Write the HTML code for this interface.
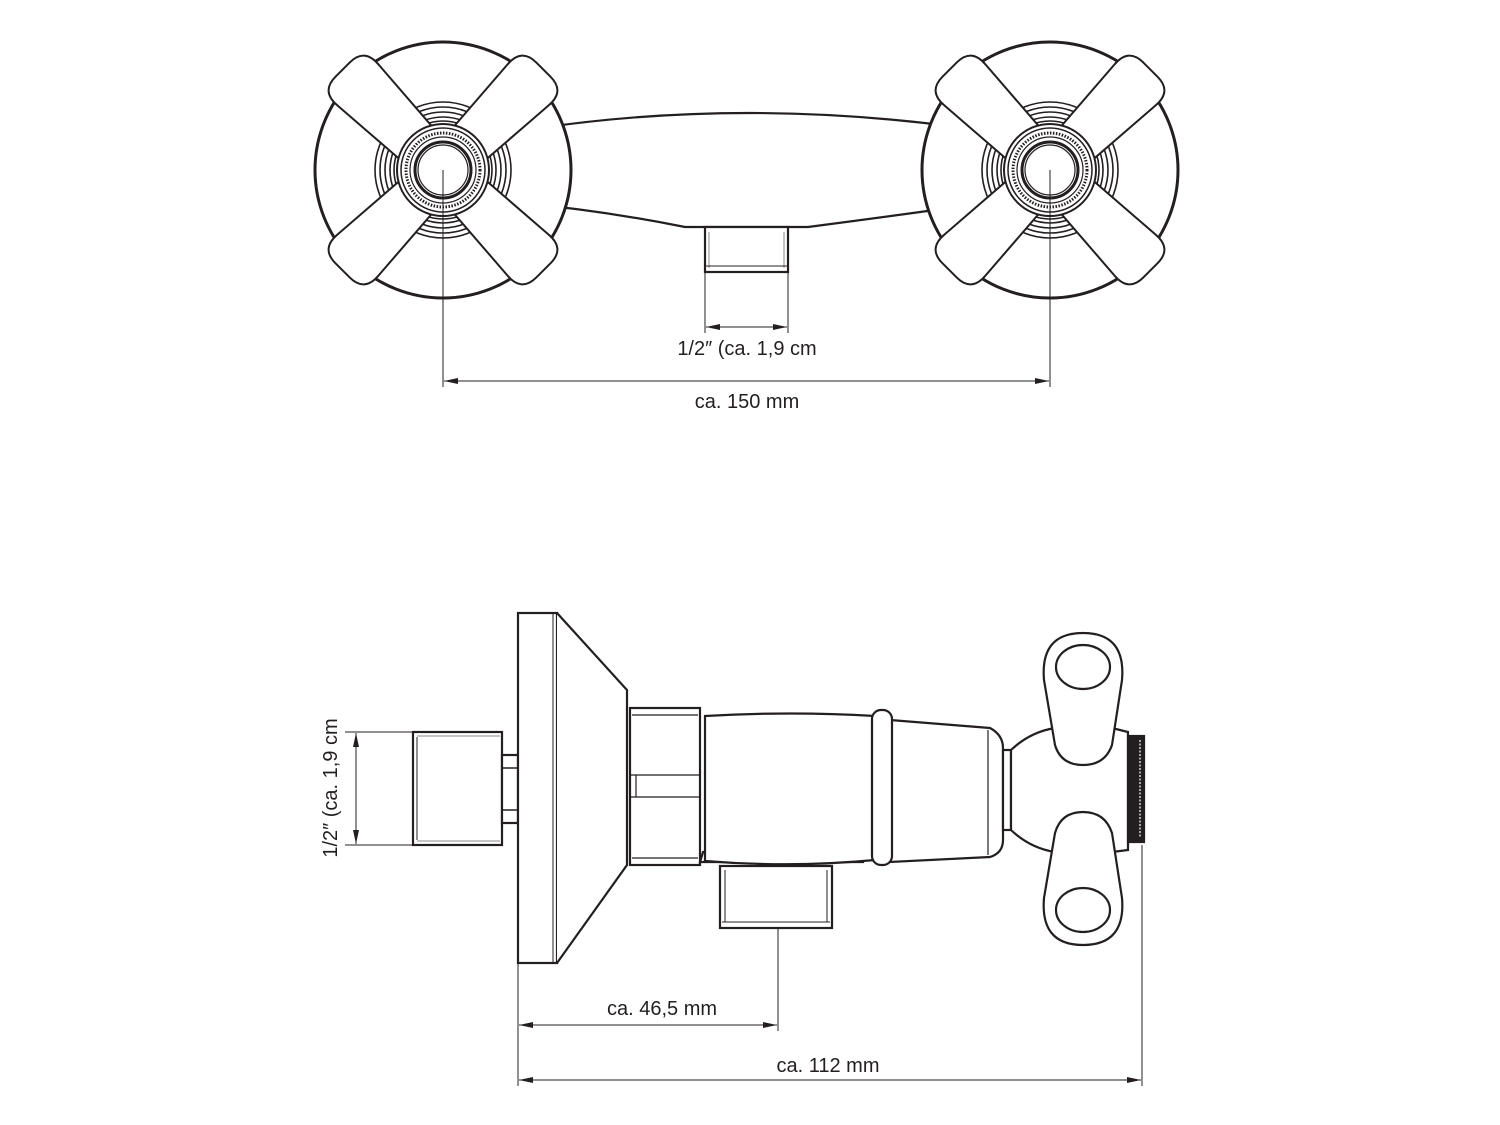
<!DOCTYPE html>
<html><head><meta charset="utf-8"><style>
html,body{margin:0;padding:0;background:#fff;}
svg{display:block}
text{font-family:"Liberation Sans",sans-serif;font-size:20px;fill:#231f20}
</style></head><body>
<svg width="1500" height="1125" viewBox="0 0 1500 1125" xmlns="http://www.w3.org/2000/svg">
<defs>
<marker id="a" viewBox="0 0 14 6" refX="14" refY="3" markerWidth="14" markerHeight="6" orient="auto-start-reverse" markerUnits="userSpaceOnUse"><path d="M0,0 L14,3 L0,6 Z" fill="#231f20"/></marker>
<path id="arm" d="M38,-23 L120,-29 Q142,-31 142,-10 L142,10 Q142,31 120,29 L38,23 Z"/>
<g id="h" stroke="#231f20" fill="#fff" stroke-width="2">
  <circle r="128" stroke-width="3"/>
  <g fill="none" stroke-width="1.6">
    <circle r="68"/><circle r="63"/><circle r="58"/><circle r="53"/><circle r="49"/>
  </g>
  <use href="#arm" transform="rotate(-45)"/>
  <use href="#arm" transform="rotate(45)"/>
  <use href="#arm" transform="rotate(135)"/>
  <use href="#arm" transform="rotate(225)"/>
  <circle r="46"/>
  <circle r="42" fill="none" stroke-width="1.5"/>
  <circle r="37" fill="none" stroke-width="3" stroke-dasharray="1.5 1.5"/>
  <circle r="33" fill="none" stroke-width="1.2"/>
  <circle r="28" stroke-width="3"/>
  <circle r="25" fill="none" stroke-width="1.2"/>
</g>
</defs>

<!-- TOP VIEW -->
<g stroke="#231f20" fill="#fff" stroke-width="2.2">
  <path d="M520,131 Q746,95 985,131 L985,203 Q900,215 808,227 L685,227 Q600,210 520,203 Z"/>
  <rect x="705" y="227" width="83" height="45"/>
  <path d="M709,232 V268 M784,232 V268" stroke-width="1" stroke="#888" fill="none"/>
  <path d="M706,266 H787" stroke-width="1" fill="none"/>
</g>
<use href="#h" x="443" y="170"/>
<use href="#h" x="1050" y="170"/>
<g stroke="#231f20" stroke-width="1" fill="none">
  <path d="M443,170 V387 M1050,170 V387 M705,272 V333 M788,272 V333"/>
  <path d="M706,327 H787" marker-start="url(#a)" marker-end="url(#a)"/>
  <path d="M444,381 H1049" marker-start="url(#a)" marker-end="url(#a)"/>
</g>
<text x="747" y="355" text-anchor="middle">1/2″ (ca. 1,9 cm</text>
<text x="747" y="408" text-anchor="middle">ca. 150 mm</text>

<!-- SIDE VIEW -->
<g stroke="#231f20" fill="#fff" stroke-width="2.2">
  <rect x="413" y="732" width="89" height="113"/>
  <path d="M417,737 V840" stroke-width="1"/>
  <path d="M417,736 H500 M417,841 H500" stroke-width="1" stroke="#888"/>
  <rect x="502" y="755" width="16" height="68"/>
  <path d="M502,768 H518 M502,810 H518" stroke-width="1.5"/>
  <rect x="518" y="613" width="39" height="350"/>
  <path d="M553,613 V963" stroke-width="1"/>
  <path d="M557,613 L627,690 L627,865 L557,963"/>
  <rect x="630" y="708" width="70" height="157"/>
  <path d="M632,715 H698 M632,858 H698 M630,775 H700 M630,797 H700 M636,775 V797" stroke-width="1.2" fill="none"/>
  <rect x="720" y="866" width="112" height="62"/>
  <path d="M725,870 V922 M827,870 V922 M722,922 H830" stroke-width="1" fill="none"/>
  <path d="M700,862 L863,862 L863,852 L703,852 Z"/>
  <path d="M705,716 Q790,711 875,716 L875,860 Q790,868 705,861 Z"/>
  <path d="M890,720 L990,728 Q1003,735 1003,748 V840 Q1003,853 990,857 L890,862 Z"/>
  <path d="M988,730 V855" stroke-width="1.2"/>
  <rect x="872" y="710" width="20" height="155" rx="9"/>
  <rect x="1003" y="750" width="8" height="80"/>
  <path d="M1011,750 Q1030,732 1055,728 L1112,728 L1128,732 V850 L1112,852 L1055,852 Q1030,848 1011,830 Z"/>
  <rect x="1128" y="736" width="16" height="106" fill="#231f20"/>
  <path d="M1140,740 V838" stroke="#fff" stroke-width="1.2" stroke-dasharray="2 1.5"/>
  <path d="M1044,680 Q1040,633 1083,633 Q1126,633 1122,680 L1112,745 Q1105,765 1083,765 Q1061,765 1055,745 Z"/>
  <ellipse cx="1083" cy="667" rx="27" ry="22"/>
  <path d="M1044,898 Q1040,945 1083,945 Q1126,945 1122,898 L1112,833 Q1105,812 1083,812 Q1061,812 1055,833 Z"/>
  <ellipse cx="1083" cy="910" rx="27" ry="22"/>
</g>
<g stroke="#231f20" stroke-width="1" fill="none">
  <path d="M345,732 H413 M345,845 H413"/>
  <path d="M356,733 V844" marker-start="url(#a)" marker-end="url(#a)"/>
  <path d="M518,963 V1086 M778,928 V1031 M1142,845 V1086"/>
  <path d="M519,1025 H777" marker-start="url(#a)" marker-end="url(#a)"/>
  <path d="M519,1080 H1141" marker-start="url(#a)" marker-end="url(#a)"/>
</g>
<text transform="translate(337,788) rotate(-90)" text-anchor="middle">1/2″ (ca. 1,9 cm</text>
<text x="662" y="1015" text-anchor="middle">ca. 46,5 mm</text>
<text x="828" y="1072" text-anchor="middle">ca. 112 mm</text>
</svg>
</body></html>
